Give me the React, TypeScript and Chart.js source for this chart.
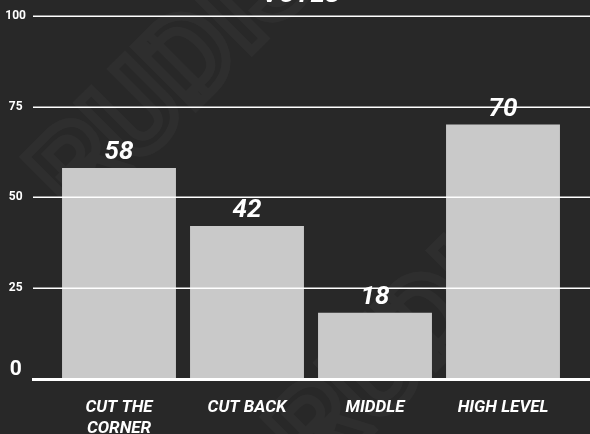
import React, { useEffect, useRef } from "react";
import { Chart, registerables } from "chart.js";

Chart.register(...registerables);

const categories: (string | string[])[] = [["CUT THE", "CORNER"], "CUT BACK", "MIDDLE", "HIGH LEVEL"];
const votes: number[] = [58, 42, 18, 70];
const yTicks: number[] = [0, 25, 50, 75, 100];
const titleText = "VOTES";
const watermark = "RUDIS";

const BG = "#282828";
const BAR = "#c9c9c9";
const FONT = "Roboto";

const overlayPlugin = {
  id: "overlay",
  beforeDraw(chart: any) {
    const { ctx, width, height } = chart;
    ctx.save();
    ctx.fillStyle = BG;
    ctx.fillRect(0, 0, width, height);
    // watermark
    ctx.strokeStyle = "rgba(255,255,255,0.03)";
    ctx.lineWidth = 9;
    ctx.font = `bold 120px ${FONT}`;
    ctx.textAlign = "center";
    ctx.textBaseline = "middle";
    const marks = [
      [180, 80],
      [420, 340],
    ];
    for (const [x, y] of marks) {
      ctx.save();
      ctx.translate(x, y);
      ctx.rotate(-Math.PI / 4);
      ctx.strokeText(watermark, 0, 0);
      ctx.restore();
    }
    ctx.restore();
  },
  afterDatasetsDraw(chart: any) {
    const { ctx, width } = chart;
    const y = chart.scales.y;
    ctx.save();
    ctx.strokeStyle = "#ffffff";
    yTicks.forEach((v) => {
      const py = y.getPixelForValue(v);
      ctx.beginPath();
      if (v === 0) {
        ctx.lineWidth = 3;
        ctx.moveTo(32, py + 1.5);
        ctx.lineTo(width, py + 1.5);
      } else {
        ctx.lineWidth = 1.5;
        ctx.moveTo(33, Math.round(py) + 0.25);
        ctx.lineTo(width, Math.round(py) + 0.25);
      }
      ctx.stroke();
    });
    // value labels
    const meta = chart.getDatasetMeta(0);
    ctx.fillStyle = "#ffffff";
    ctx.font = `italic bold 26px ${FONT}`;
    ctx.textAlign = "center";
    ctx.textBaseline = "alphabetic";
    meta.data.forEach((bar: any, i: number) => {
      ctx.fillText(String(votes[i]), bar.x, bar.y - 9);
    });
    // title (cut off at top)
    ctx.font = `italic bold 26px ${FONT}`;
    ctx.fillText(titleText, 301, 2);
    ctx.restore();
  },
};

export default function App() {
  const ref = useRef<HTMLCanvasElement | null>(null);
  useEffect(() => {
    document.body.style.margin = "0";
    const chart = new Chart(ref.current as HTMLCanvasElement, {
      type: "bar",
      data: {
        labels: categories,
        datasets: [
          {
            data: votes,
            backgroundColor: BAR,
            borderWidth: 0,
            categoryPercentage: 1,
            barPercentage: 0.89,
          },
        ],
      },
      options: {
        animation: false,
        responsive: false,
        maintainAspectRatio: false,
        layout: { padding: { top: 16, right: 23, left: 0, bottom: 0 } },
        plugins: { legend: { display: false }, tooltip: { enabled: false }, title: { display: false } },
        scales: {
          x: {
            grid: { display: false },
            border: { display: false },
            ticks: {
              color: "#ffffff",
              padding: 12,
              maxRotation: 0,
              autoSkip: false,
              font: { family: FONT, size: 17, weight: "bold", style: "italic", lineHeight: 1.2 },
            },
            afterFit(scale: any) {
              scale.height = 56;
              scale.paddingLeft = 0;
              scale.paddingRight = 0;
            },
          },
          y: {
            min: 0,
            max: 100,
            grid: { display: false },
            border: { display: false },
            afterBuildTicks(scale: any) {
              scale.ticks = yTicks.map((v) => ({ value: v }));
            },
            ticks: {
              color: "#ffffff",
              crossAlign: "center",
              padding: 21,
              callback: (v: any) => (Number(v) === 0 ? ["0", ""] : String(v)),
              font: (c: any) =>
                c.tick && c.tick.value === 0
                  ? { family: FONT, size: 21, weight: "bold", lineHeight: 0.75 }
                  : { family: FONT, size: 12, weight: "bold" },
            },
            afterFit(scale: any) {
              scale.width = 55;
              scale.paddingTop = 0;
              scale.paddingBottom = 0;
            },
          },
        },
      },
      plugins: [overlayPlugin],
    } as any);
    return () => chart.destroy();
  }, []);
  return (
    <div style={{ width: 590, height: 434 }}>
      <canvas ref={ref} width={590} height={434} style={{ display: "block" }} />
    </div>
  );
}
